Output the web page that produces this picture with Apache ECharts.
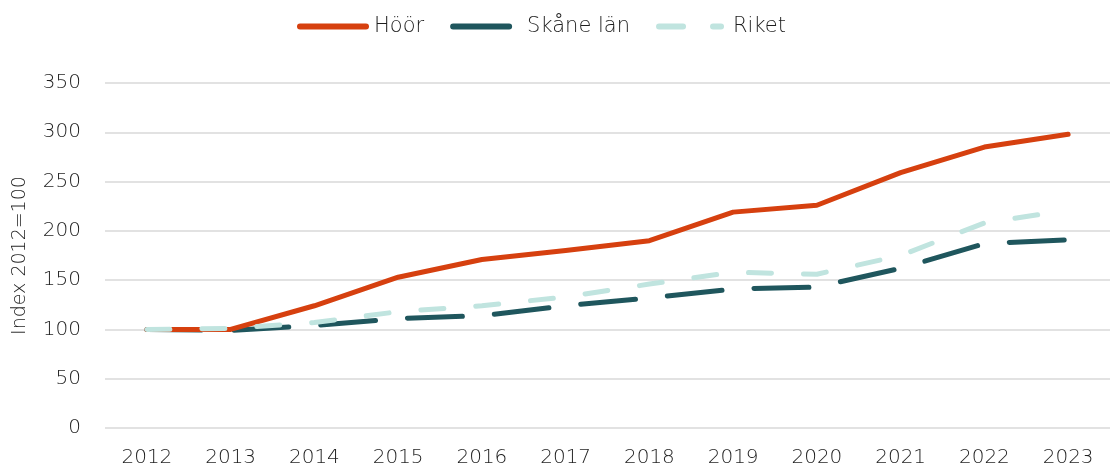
<!DOCTYPE html>
<html>
<head>
    <meta charset="utf-8">
    <script src="https://cdn.jsdelivr.net/npm/echarts@6/dist/echarts.min.js"></script>
    <style>
        html, body { margin: 0; padding: 0; background: #fff; }
    </style>
</head>
<body>
    <div id="main" style="width: 1113px;height:468px;"></div>
    <script type="text/javascript">
        // data
        var years = ['2012', '2013', '2014', '2015', '2016', '2017', '2018', '2019', '2020', '2021', '2022', '2023'];
        var hoor = [100, 100, 124, 153, 171, 180, 190, 219, 226, 259, 285, 298];
        var skane = [100, 99, 104, 111, 114, 124, 132, 141, 143, 162, 187, 191];
        var riket = [100, 101, 107, 118, 124, 133, 146, 158, 156, 175, 208, 221];

        var font = '"DejaVu Sans", sans-serif';
        var txt = '#1e1e1e';

        // legend icons drawn as paths so they keep the thick/dashed look
        var iconSolid = 'path://M3,0 L69,0 A3,3 0 0 1 69,6 L3,6 A3,3 0 0 1 3,0 Z';
        var iconLong = 'path://M3,0 L59,0 A3,3 0 0 1 59,6 L3,6 A3,3 0 0 1 3,0 Z M72,0 L72,6 Z';
        var iconShort = 'path://M3,0 L27,0 A3,3 0 0 1 27,6 L3,6 A3,3 0 0 1 3,0 Z M57,0 L65,0 A3,3 0 0 1 65,6 L57,6 A3,3 0 0 1 57,0 Z M72,0 L72,6 Z';

        var myChart = echarts.init(document.getElementById('main'));
        myChart.setOption({
            animation: false,
            textStyle: { fontFamily: font },
            legend: {
                top: 11,
                left: 292,
                itemWidth: 72,
                itemHeight: 6,
                itemGap: 26,
                textStyle: { fontSize: 21, color: txt, fontFamily: font, fontWeight: 200 },
                data: [
                    { name: 'Höör', icon: iconSolid },
                    { name: 'Skåne län', icon: iconLong },
                    { name: 'Riket', icon: iconShort }
                ]
            },
            grid: {
                left: 105,
                right: 3,
                top: 83,
                bottom: 40
            },
            xAxis: {
                type: 'category',
                data: years,
                boundaryGap: true,
                axisLine: { show: false },
                axisTick: { show: false },
                axisLabel: { fontSize: 20, color: txt, margin: 20, fontFamily: font, fontWeight: 200 }
            },
            yAxis: {
                type: 'value',
                min: 0,
                max: 350,
                interval: 50,
                name: 'Index 2012=100',
                nameLocation: 'middle',
                nameGap: 75,
                nameTextStyle: { fontSize: 19, color: txt, fontFamily: font, fontWeight: 200 },
                axisLabel: { fontSize: 20, color: txt, margin: 24, fontFamily: font, fontWeight: 200 },
                splitLine: { lineStyle: { color: '#d9d9d9', width: 1.5 } }
            },
            series: [
                {
                    name: 'Höör',
                    type: 'line',
                    data: hoor,
                    symbol: 'none',
                    z: 3,
                    itemStyle: { color: '#d6400f' },
                    lineStyle: { color: '#d6400f', width: 5, cap: 'round', join: 'round' }
                },
                {
                    name: 'Skåne län',
                    type: 'line',
                    data: skane,
                    symbol: 'none',
                    z: 2,
                    itemStyle: { color: '#1f565d' },
                    lineStyle: { color: '#1f565d', width: 5, type: [55, 32], cap: 'round', join: 'round' }
                },
                {
                    name: 'Riket',
                    type: 'line',
                    data: riket,
                    symbol: 'none',
                    z: 4,
                    itemStyle: { color: '#c0e4df' },
                    lineStyle: { color: '#c0e4df', width: 5, type: [23, 32], cap: 'round', join: 'round' }
                }
            ]
        });
    </script>
</body>
</html>
